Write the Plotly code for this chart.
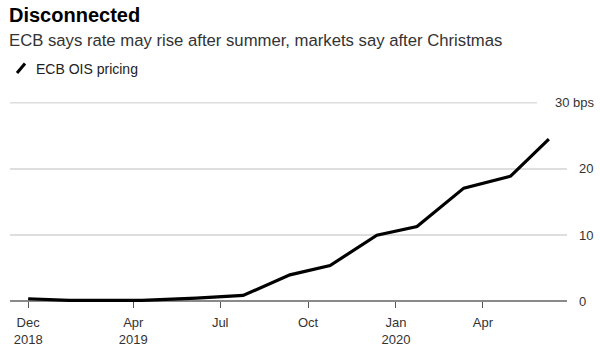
import plotly.graph_objects as go

# ---- data ----
dates = ["2018-12-12", "2019-01-24", "2019-03-07", "2019-04-10", "2019-06-06",
         "2019-07-25", "2019-09-12", "2019-10-24", "2019-12-12", "2020-01-23",
         "2020-03-12", "2020-04-30", "2020-06-09"]
ois_bps = [0.4, 0.15, 0.15, 0.15, 0.5, 0.9, 4.0, 5.4, 10.0, 11.3, 17.1, 18.9, 24.5]

x_tick_vals = ["2018-12-12", "2019-04-01", "2019-07-01", "2019-10-01", "2020-01-01", "2020-04-01"]
x_tick_text = ["Dec<br>2018", "Apr<br>2019", "Jul", "Oct", "Jan<br>2020", "Apr"]
y_tick_vals = [0, 10, 20]
y_tick_text = ["0", "10", "20"]
y_top_val = 30
y_top_text = "30 bps"

title = "Disconnected"
subtitle = "ECB says rate may rise after summer, markets say after Christmas"
series_name = "ECB OIS pricing"

W, H = 600, 357
ML, MR, MT, MB = 10, 33, 96, 49
PW = W - ML - MR
PH = H - MT - MB
FONT = "Liberation Sans, Arial, Helvetica, sans-serif"


def px_x(p):
    return (p - ML) / PW


def px_y(p):
    return (H - MB - p) / PH


fig = go.Figure()
fig.add_trace(go.Scatter(
    x=dates, y=ois_bps, mode="lines", name=series_name,
    line=dict(color="#000000", width=3.2), showlegend=False, hoverinfo="x+y",
))

fig.update_layout(
    width=W, height=H,
    margin=dict(l=ML, r=MR, t=MT, b=MB, pad=0, autoexpand=False),
    paper_bgcolor="white", plot_bgcolor="white",
    font=dict(family=FONT, color="#333333", size=13),
    showlegend=False,
    xaxis=dict(
        type="date", range=["2018-11-23", "2020-06-28"],
        tickvals=x_tick_vals, ticktext=x_tick_text,
        ticks="outside", ticklen=6, tickwidth=1, tickcolor="#555555",
        showgrid=False, showline=False, zeroline=False,
        anchor="free", position=1 / 32, ticklabelstandoff=3,
        tickfont=dict(size=13, color="#333333", family=FONT),
    ),
    yaxis=dict(
        range=[-1, 31], side="right",
        tickvals=y_tick_vals, ticktext=y_tick_text,
        showgrid=True, gridcolor="#dedede", gridwidth=1.5,
        zeroline=True, zerolinecolor="#8a8a8a", zerolinewidth=1.5,
        showline=False, ticks="", ticklabelstandoff=11,
        tickfont=dict(size=13, color="#333333", family=FONT),
    ),
)

# top gridline (shortened to leave room for its label)
fig.add_shape(type="line", xref="paper", yref="y",
              x0=0, x1=px_x(537), y0=y_top_val, y1=y_top_val,
              line=dict(color="#dedede", width=1.5), layer="below")
fig.add_annotation(text=y_top_text, xref="paper", yref="y",
                   x=px_x(597), y=y_top_val, xanchor="right", yanchor="middle",
                   showarrow=False, font=dict(size=13, color="#333333", family=FONT))

# title / subtitle
fig.add_annotation(text="<b>" + title + "</b>", xref="paper", yref="paper",
                   x=px_x(7), y=px_y(14.7), xanchor="left", yanchor="middle",
                   showarrow=False, font=dict(size=20, color="#000000", family=FONT))
fig.add_annotation(text=subtitle, xref="paper", yref="paper",
                   x=px_x(7), y=px_y(40.0), xanchor="left", yanchor="middle",
                   showarrow=False, font=dict(size=16.7, color="#333333", family=FONT))

# legend (slash icon + label)
fig.add_shape(type="line", xref="paper", yref="paper",
              x0=px_x(17), y0=px_y(73), x1=px_x(25), y1=px_y(63.5),
              line=dict(color="#000000", width=3))
fig.add_annotation(text=series_name, xref="paper", yref="paper",
                   x=px_x(34), y=px_y(69), xanchor="left", yanchor="middle",
                   showarrow=False, font=dict(size=14, color="#222222", family=FONT))

fig.write_html("out.html",
               config={"displayModeBar": False},
               post_script="document.body.style.margin='0';document.body.style.padding='0';")
